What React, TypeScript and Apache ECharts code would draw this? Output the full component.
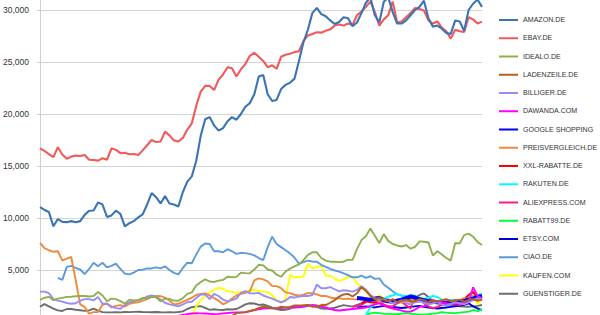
import React, { useEffect, useRef } from "react";
import * as echarts from "echarts";

const weeks: string[] = Array.from({ length: 100 }, (_, i) => `W${i + 1}`);
const yTicks = [0, 5000, 10000, 15000, 20000, 25000, 30000, 35000];

const amazon = [11050,10770,10570,9200,9900,9620,9600,9700,9600,9700,
10300,10700,10720,11500,11300,10100,10250,10700,10400,9200,
9500,9700,10050,10350,11300,12400,12000,11400,12100,11400,
11300,11100,12500,13500,14000,15500,17900,19500,19700,18900,
18400,18640,19300,19700,19450,20000,20700,21050,21900,23600,
23750,21900,21250,21350,22400,22800,23000,23400,25100,26900,
28100,29700,30200,29600,29400,29000,28650,28850,29300,29200,
28450,28800,29700,30700,31200,29500,28800,30800,31200,29800,
28700,28700,29000,29500,30000,30300,30900,29200,28400,28500,
28200,27800,27700,29000,28900,28000,30000,30600,31000,30300];

const ebay = [16700,16450,16150,15850,16800,16100,15700,15900,16000,15960,
16050,15600,15580,15520,15740,15600,16700,16550,16230,16280,
16130,16150,16050,16500,17000,17500,17300,17350,18300,17950,
17450,17350,17700,18500,19100,20800,22150,22700,22700,22300,
23300,23800,24500,24400,23600,24300,24800,25600,25880,25500,
25100,24500,24680,24350,25500,25700,25800,25950,26030,27000,
27550,27700,27850,27820,28000,28140,28500,28600,28500,28700,
28560,29500,29850,30300,30800,29800,28500,29100,29500,30800,
28800,28900,29300,29700,30200,30100,29950,29000,28700,28900,
28300,27950,27250,28100,27950,27900,29300,29100,28700,28880];

const idealo = [2120,2330,2420,2100,2250,2320,2420,2430,2480,2500,
2500,2450,2500,2880,2550,2000,2250,2200,2000,1760,
2150,2080,2110,2320,2280,2420,2380,2000,2250,2220,
2060,2050,2300,2700,2850,3500,3850,4100,3900,3850,
3980,4050,4350,4300,4340,4750,4700,4680,5050,5500,
5450,5050,4950,4550,4350,4850,5130,5350,5550,5950,
6450,6700,6700,6150,5900,5800,5800,5760,5800,6000,
5970,7000,7880,8250,9000,8300,7600,8450,7800,7500,
7360,7260,7400,7050,7220,7750,7720,7650,6400,6800,
6500,6150,5900,7600,7550,8350,8500,8200,7700,7400];

const ladenzeile = [300,320,340,330,350,340,360,350,380,370,
390,400,380,410,420,410,440,430,450,470,
490,510,540,580,
850,900,950,1060,1150,1350,1470,1400,1310,1320,
1470,1390,1450,1600,1600,1600,1600,1470,1480,1630,
1630,1850,2100,2450,2650,2700,2450,2760,3350,3000,
2500,2200,2350,2100,2000,2200,1900,2050,2150,1950,
2000,2200,2100,1900,2050,1950,2100,2200,2000,2050,
2150,1950,2100,2200,2050,2150];

const billiger = [2920,2920,2780,2200,2060,1960,1830,1750,1800,2050,
2200,2200,2080,2400,1750,1750,1500,1330,1270,1650,
1900,2000,2100,2250,2450,2550,2450,2150,1850,1700,
1600,1500,1700,1900,1950,2300,2650,2650,2200,2700,
2500,2150,1980,2100,2250,2800,2980,2750,2750,2800,
2550,2400,2250,2050,1900,2050,2400,2350,2450,2500,
2500,2600,3600,3250,3250,3350,3150,2950,3050,3000,
2920,3100,3450,3100,2600,2300,2100,2200,2000,1800,
1900,2100,1800,1700,1900,2000,1850,1700,1800,1900,
1700,1600,1750,1900,1800,1700,1900,2100,2300,2200];

const dawanda = [450,480,500,520,540,560,600,
680,760,820,840,830,820,780,740,780,830,
860,900,930,930,940,1050,1150,1230,1300,1310,
1310,1320,1350,1380,1380,1380,1420,1470,1550,1630,
1600,1470,1400,1250,1150,1100,1150,1200,1250,1300,
1350,1400,1550,1700,1800,1600,1400,1300,1200,1100,
1000,1000,1200,1450,1500,1900,2100,2000,1900,1800,
1700,1750,1800,1850,1900,3350,2500,2300];

const googleShopping = [2300,2250,2200,2150,2250,2300,2100,2000,1950,
2050,2150,2300,2450,2350,2200,2100,2000,1950,1900,
1850,1800,1800,1850,1950,2000,2150,2250,2400,2500];

const preisvergleich = [7600,7100,6900,6750,6800,5900,6100,6250,4000,1700,
1450,800,950,950,1650,1780,1400,1550,1620,1480,
1750,1850,1900,2050,2200,2420,2500,2480,2350,2050,
1700,1750,1950,2120,2350,2600,2700,2750,2550,2300,
2050,1700,1900,2250,2550,2700,2800,2950,4000,4200,
4100,3900,3450,3450,3250,2850,2780,2620,2520,2620,
2780,2780,2650,2500,2500,2360,2280,2300,2200,2250,
2200,2150,2350,2250,2100,2200,1900,2050,2200,2000,
2150,1850,2000,1950,2200,2050,1900,2100,2000,1850,
2050,2150,2000,1950,2100,2300,2200,2500,2000,2250];

const xxlRabatte = [1800,2000,1900,1850,2000,2100,1950,1900,
2000,2100,2200,2050,1950,2000,2100,2050,1950,1900,
1850,1900,2000,2100,2050,2200,2600,2900,2300,2100];

const rakuten = [700,1400,1700,1950,2200,2450,2550,
2700,2500,2450,2600,2500,2350,2250,2350,2500,2400,
2150,2100,2150,2000,1950,2200,2400,2500,2600,2700];

const aliexpress = [1450,1550,1650,1900,2100,2000,1950,1700,1500,1500,
1800,1950,1600,1300,2500,2300,1800,1500,1300,1450,
1630,1800,1950,1800,1630,1800,2200,2400,2300,2200];

const rabatt99 = [700,830,900,850,800,780,760,
750,800,850,800,750,700,720,750,800,850,
950,900,850,850,900,950,1000,1150,1050,1200];

const etsy = [1400,1450,1500,1450,1400,1480,1550,1500,1450,
1400,1350,1400,1450,1500,1550,1450,1400,1350,1300,
1350,1400,1450,1500,1550,1650,1800,1500,1300,1150];

const ciao = [4250,4050,5300,5400,5200,5050,
4600,5100,5700,5350,5700,5250,5400,5620,5100,4650,
4580,4750,5000,5030,5150,5150,5250,5150,5350,5000,
4720,4580,5200,5700,5650,6500,7250,7550,7500,6800,
6800,6700,7000,6800,6550,6650,6620,6550,6400,6150,
5950,7200,8200,7500,7200,6900,6600,6200,5600,5750,
5900,5820,5800,5500,5300,5100,4950,4850,4680,4500,
4300,4300,4450,4250,4400,4150,4200,3600,3300,2950,
2650,2550,2500,2450,2420,2300,2120,2000,1900,1860,
1800,1750,1700,1800,1950,2050,2120,2130,2120,2120];

const kaufen = [600,1500,2150,2500,2850,3100,3300,3200,2950,2900,
2800,2900,2920,3050,3080,3000,2920,2900,2550,2100,
1850,2200,4500,4300,4300,4360,5600,5160,5300,5400,
4450,4450,4200,3950,4100,4300,4350,3750,3350,
2900,2450,2280,2550,2300,2000,1800,2200,1900,2000,
2400,1900,2100,2150,1600,2000,1700,2000,1800,1650,
2100,1700,2300,1850,2600,1700,2500];

const guenstiger = [1470,1720,1500,1280,1120,1060,1250,1250,1180,1130,
1070,1120,1280,1100,950,930,930,940,930,960,
950,970,990,960,950,940,960,940,930,940,
930,960,1020,1250,1420,1500,1520,1350,1170,1230,
1170,1150,1220,1200,1250,1450,1700,1800,1780,1650,
1680,1550,1380,1250,1150,1170,1300,1450,1470,1580,
1630,1550,1450,1300,1260,1300,1370,1500,1620,1550,
1480,1650,1800,2050,2100,2000,1950,2000,1950,1900,
1950,1950,2000,2100,2300,2600,2750,2400,2000,1850,
1800,1750,1650,1600,1500,1480,1470,1500,1550,1630];

const names = ["AMAZON.DE","EBAY.DE","IDEALO.DE","LADENZEILE.DE","BILLIGER.DE","DAWANDA.COM","GOOGLE SHOPPING","PREISVERGLEICH.DE","XXL-RABATTE.DE","RAKUTEN.DE","ALIEXPRESS.COM","RABATT99.DE","ETSY.COM","CIAO.DE","KAUFEN.COM","GUENSTIGER.DE"];
const colors = ["#3b74b5","#f25a5a","#8fb04f","#b5601f","#9b8cf5","#ff00ff","#0000ff","#f0893a","#ff0000","#00ffff","#ff1a8c","#00ff33","#0000dd","#5b9bdc","#ffff00","#6d6d6d"];
const values = [amazon, ebay, idealo, ladenzeile, billiger, dawanda, googleShopping, preisvergleich, xxlRabatte, rakuten, aliexpress, rabatt99, etsy, ciao, kaufen, guenstiger];

const pad = (vals: number[]) => [...Array(weeks.length - vals.length).fill(null), ...vals];

// chart canvas is taller than the visible window: the reference crops the top (35,000) and the bottom (0)
const OFFSET = 52;

export default function App() {
  const ref = useRef<HTMLDivElement>(null);
  useEffect(() => {
    if (!ref.current) return;
    const chart = echarts.init(ref.current, null, { renderer: "svg" });
    const series = names.map((name, i) => ({
      name,
      type: "line",
      data: pad(values[i]),
      symbol: "none",
      showSymbol: false,
      lineStyle: { color: colors[i], width: name === "GOOGLE SHOPPING" ? 4 : i < 2 ? 2.1 : 1.9 },
      itemStyle: { color: colors[i] },
    }));
    const ordered = [...series.slice(2).reverse(), series[1], series[0]];
    chart.setOption({
      animation: false,
      backgroundColor: "#ffffff",
      grid: { left: 40, right: 118, top: 10, bottom: 10, containLabel: false },
      legend: {
        orient: "vertical",
        left: 498,
        top: 16 + OFFSET,
        padding: 0,
        itemWidth: 19,
        itemHeight: 10,
        itemGap: 10.25,
        itemStyle: { opacity: 0 },
        data: names,
        textStyle: { fontSize: 7.1, color: "#333", fontFamily: "Liberation Sans, Arial, sans-serif" },
      },
      xAxis: {
        type: "category",
        data: weeks,
        boundaryGap: false,
        show: false,
      },
      yAxis: {
        type: "value",
        min: yTicks[0],
        max: yTicks[yTicks.length - 1],
        interval: 5000,
        axisLine: { show: true, lineStyle: { color: "#cfcfcf", width: 1 } },
        axisTick: { show: true, length: 3, lineStyle: { color: "#cfcfcf" } },
        splitLine: { show: true, lineStyle: { color: "#d4d4d4", width: 1 } },
        axisLabel: {
          fontSize: 8.5,
          color: "#333",
          margin: 11,
          fontFamily: "Liberation Sans, Arial, sans-serif",
          formatter: (v: number) => (v === yTicks[0] || v === yTicks[yTicks.length - 1] ? "" : v.toLocaleString("en-US")),
        },
      },
      series: ordered,
    });
    return () => chart.dispose();
  }, []);
  return (
    <div style={{ position: "fixed", left: 0, top: 0, width: 600, height: 315, overflow: "hidden", background: "#fff" }}>
      <div ref={ref} style={{ position: "absolute", left: 0, top: -OFFSET, width: 600, height: 384 }} />
    </div>
  );
}
